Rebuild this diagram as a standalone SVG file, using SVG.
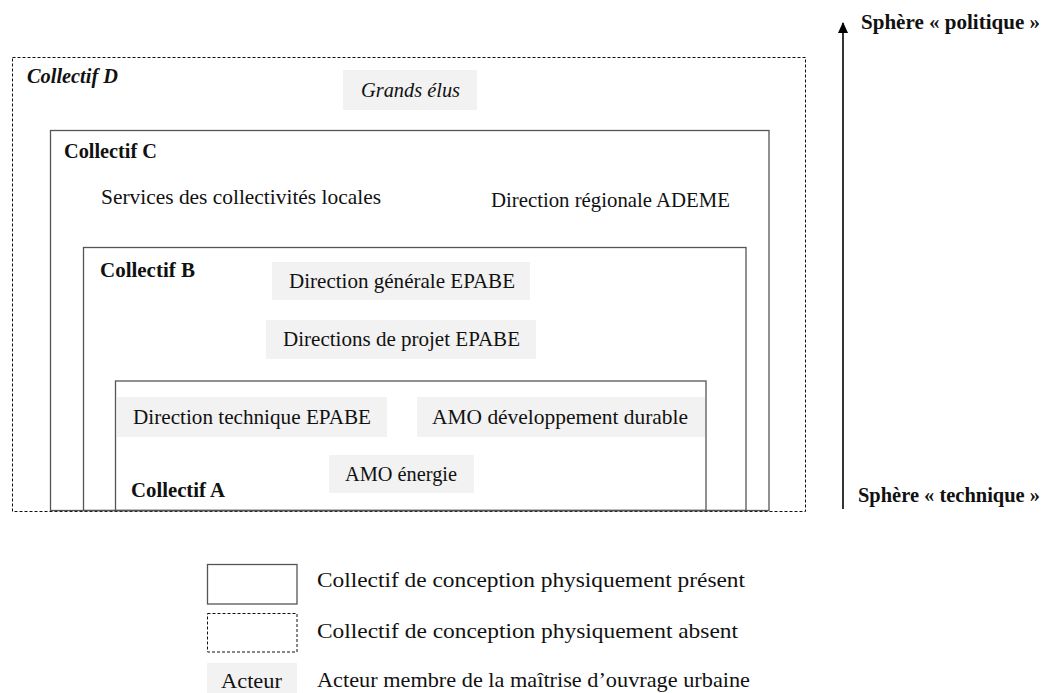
<svg xmlns="http://www.w3.org/2000/svg" width="1054" height="693" viewBox="0 0 1054 693">
<style>
text{font-family:"Liberation Serif","Times New Roman",serif;font-size:21px;fill:#111}
.b{font-weight:bold}
.bi{font-weight:bold;font-style:italic}
.i{font-style:italic}
.act{fill:#f2f2f2;stroke:none}
.solid{fill:none;stroke:#555;stroke-width:1.3}
.dash{fill:none;stroke:#111;stroke-width:1;stroke-dasharray:3 2}
</style>
<defs>
<marker id="ah" markerWidth="11" markerHeight="10" refX="10" refY="5" orient="auto" markerUnits="userSpaceOnUse" viewBox="0 0 11 10">
<path d="M0,0 L11,5 L0,10 Z" fill="#000"/>
</marker>
</defs>
<g id="collectif-D">
<rect class="dash" x="12.5" y="57.5" width="793" height="454"/>
<text class="bi" x="27" y="83" textLength="91" lengthAdjust="spacingAndGlyphs">Collectif D</text>
</g>
<g id="collectif-C">
<rect class="solid" x="50.5" y="130.5" width="718.5" height="380"/>
<text class="b" x="64" y="158" textLength="93" lengthAdjust="spacingAndGlyphs">Collectif C</text>
</g>
<g id="collectif-B">
<rect class="solid" x="83.5" y="247.5" width="662.5" height="263"/>
<text class="b" x="100" y="277" textLength="95" lengthAdjust="spacingAndGlyphs">Collectif B</text>
</g>
<g id="collectif-A">
<rect class="solid" x="115.5" y="381" width="590.5" height="129.5"/>
<text class="b" x="131" y="497" textLength="94" lengthAdjust="spacingAndGlyphs">Collectif A</text>
</g>
<g id="grands-elus">
<rect class="act" x="343" y="70" width="134" height="40"/>
<text class="i" x="361" y="97" textLength="99" lengthAdjust="spacingAndGlyphs">Grands élus</text>
</g>
<g id="services-collectivites">
<text x="101" y="204" textLength="280" lengthAdjust="spacingAndGlyphs">Services des collectivités locales</text>
</g>
<g id="direction-regionale-ademe">
<text x="491" y="207" textLength="239" lengthAdjust="spacingAndGlyphs">Direction régionale ADEME</text>
</g>
<g id="direction-generale-epabe">
<rect class="act" x="272" y="262" width="258" height="38"/>
<text x="289" y="288" textLength="226" lengthAdjust="spacingAndGlyphs">Direction générale EPABE</text>
</g>
<g id="directions-projet-epabe">
<rect class="act" x="266" y="320" width="270" height="39"/>
<text x="283" y="346" textLength="237" lengthAdjust="spacingAndGlyphs">Directions de projet EPABE</text>
</g>
<g id="direction-technique-epabe">
<rect class="act" x="117" y="397" width="270" height="40"/>
<text x="133" y="424" textLength="238" lengthAdjust="spacingAndGlyphs">Direction technique EPABE</text>
</g>
<g id="amo-dd">
<rect class="act" x="417" y="397" width="288" height="40"/>
<text x="432" y="424" textLength="256" lengthAdjust="spacingAndGlyphs">AMO développement durable</text>
</g>
<g id="amo-energie">
<rect class="act" x="329" y="455" width="145" height="38"/>
<text x="345" y="481" textLength="112" lengthAdjust="spacingAndGlyphs">AMO énergie</text>
</g>
<g id="connectors">
<line x1="843" y1="509" x2="843" y2="23" stroke="#000" stroke-width="1.6" marker-end="url(#ah)"/>
</g>
<g id="sphere-labels">
<text class="b" x="861" y="29" textLength="179" lengthAdjust="spacingAndGlyphs">Sphère « politique »</text>
<text class="b" x="858" y="502" textLength="182" lengthAdjust="spacingAndGlyphs">Sphère « technique »</text>
</g>
<g id="legend">
<rect class="solid" x="207.5" y="564.5" width="89.5" height="39.5"/>
<text x="317" y="587" textLength="428" lengthAdjust="spacingAndGlyphs">Collectif de conception physiquement présent</text>
<rect class="dash" x="207.5" y="613.5" width="89.5" height="38.5"/>
<text x="317" y="638" textLength="421" lengthAdjust="spacingAndGlyphs">Collectif de conception physiquement absent</text>
<rect class="act" x="207" y="663" width="90" height="30"/>
<text x="221" y="688" font-size="20" textLength="61" lengthAdjust="spacingAndGlyphs">Acteur</text>
<text x="317" y="687" textLength="433" lengthAdjust="spacingAndGlyphs">Acteur membre de la maîtrise d’ouvrage urbaine</text>
</g>
</svg>
